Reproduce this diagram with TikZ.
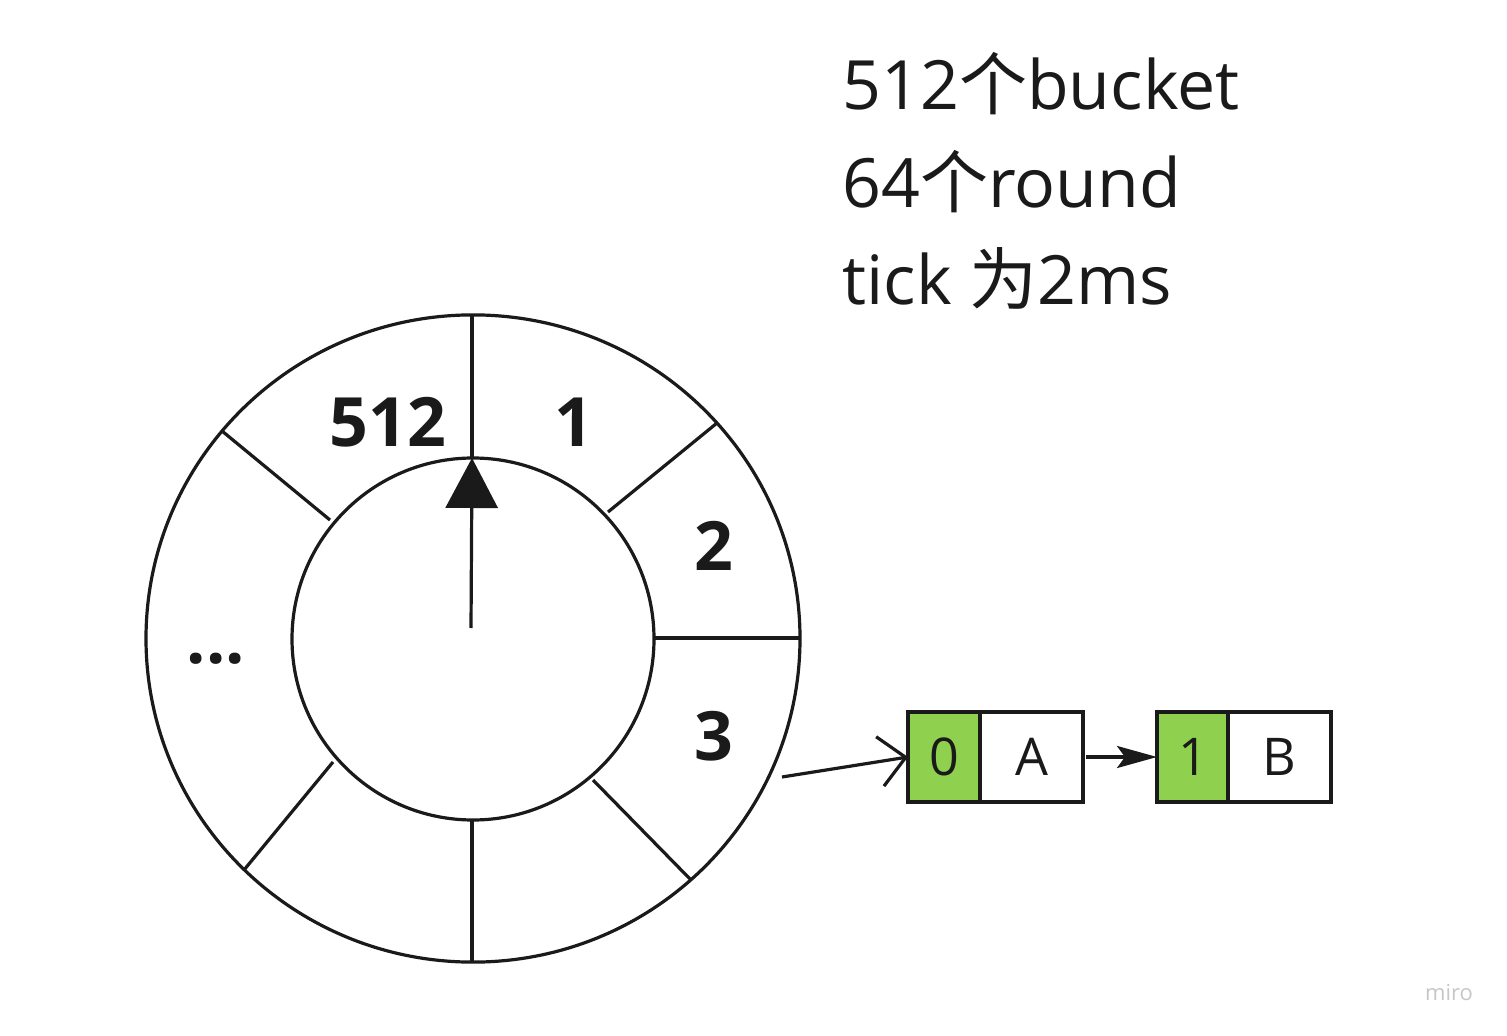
\documentclass[tikz,border=0pt]{standalone}
\usepackage{fontspec}
\setmainfont{Open Sans}
\newfontfamily\cjk{Noto Sans CJK SC}
\usetikzlibrary{arrows.meta}
\definecolor{ink}{HTML}{1A1A1A}
\definecolor{mirogreen}{HTML}{8FD14F}
\begin{document}
\begin{tikzpicture}[x=0.5pt,y=-0.5pt,line width=1.6pt,draw=ink,
  wheel/.style={draw=ink,line width=1.6pt},
  slotlabel/.style={font=\fontsize{34}{40}\selectfont\bfseries,text=ink,inner sep=0},
  toptext/.style={font=\fontsize{34}{40}\selectfont,text=ink,inner sep=0,anchor=base west},
  cell/.style={draw=ink,line width=1.6pt,minimum height=45pt,inner sep=0,outer sep=0,
    font=\fontsize{26}{30}\selectfont,text=ink,text depth=-1.5pt},
  greencell/.style={cell,fill=mirogreen,minimum width=36pt},
  whitecell/.style={cell,fill=white,minimum width=51.5pt}]
\useasboundingbox (0,0) rectangle (1507,1036);
\fill[white] (0,0) rectangle (1507,1036);
% wheel
\coordinate (c) at (473,638.5);
\draw[wheel] (c) ellipse[x radius=163.5pt,y radius=161.8pt];
\draw[wheel] (473,639) circle[radius=90.5pt];
\draw[wheel] (472,315) -- (472,457);
\draw[wheel] (608,512) -- (717,423);
\draw[wheel] (654,638) -- (800,638);
\draw[wheel] (593,780) -- (691,880);
\draw[wheel] (472,820) -- (472,962);
\draw[wheel] (333,762) -- (244,870);
\draw[wheel] (330,520) -- (222,431);
% labels
\node[slotlabel] (l512) at (388,422) {512};
\node[slotlabel] (l1) at (574,422) {1};
\node[slotlabel] (l2) at (714,546) {2};
\node[slotlabel] (l3) at (714,736) {3};
\node[slotlabel] (ldots) at (216,659) {...};
% hand
\coordinate (hb) at (471,628);
\coordinate (ht) at (472,458);
\draw[line width=1.6pt,-{Triangle[length=25pt,width=26pt]}] (hb) -- (ht);
% top text
\node[toptext] (t1) at (841,110) {512{\cjk 个}bucket};
\node[toptext] (t2) at (841,208) {64{\cjk 个}round};
\node[toptext] (t3) at (841,305) {tick {\cjk 为}2ms};
% list
\node[greencell,anchor=north west] (g0) at (908,712) {0};
\node[whitecell,anchor=north west,text width=48pt,align=center] (a0) at (980,712) {A};
\node[greencell,anchor=north west] (g1) at (1157,712) {1};
\node[whitecell,anchor=north west,text width=48pt,align=center] (b1) at (1228,712) {B};
\coordinate (src) at (782,777);
\draw[-{Straight Barb[length=13pt,width=25pt,line width=1.6pt]}] (src) -- (g0.west);
\draw[-{Stealth[length=20pt,width=11pt,inset=4pt]}] (a0.east) ++(3,0) -- (g1.west);
% watermark
\node[font=\fontsize{11}{13}\selectfont,text=black!22,inner sep=0] (miro) at (1449,993) {miro};
\end{tikzpicture}
\end{document}
